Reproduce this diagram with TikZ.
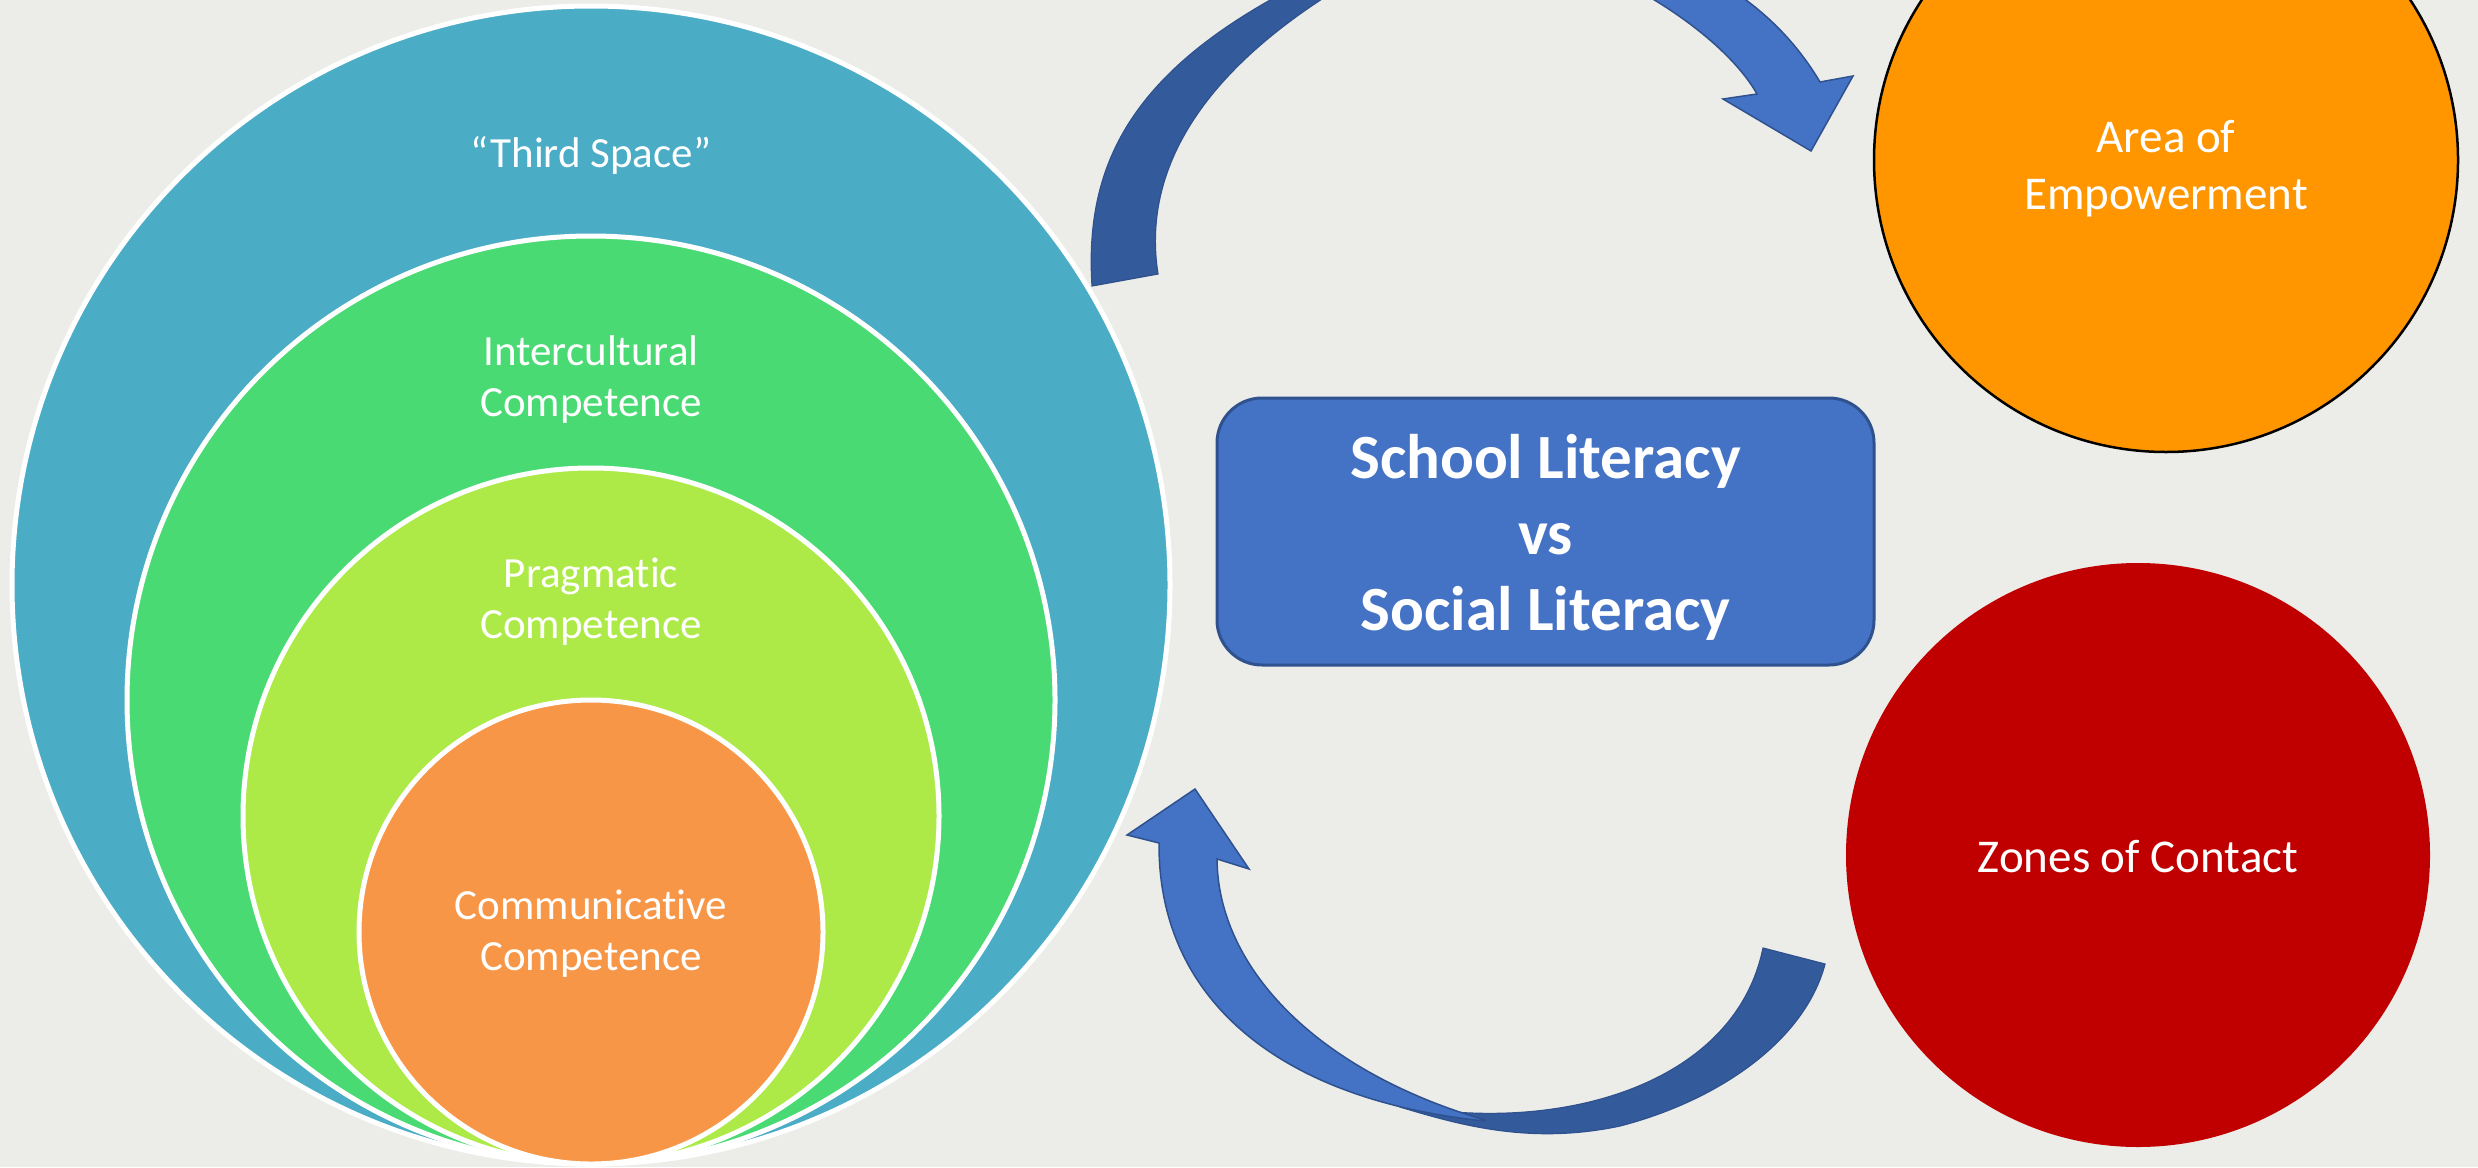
\documentclass[tikz,border=0pt]{standalone}
\usepackage{fontspec}
\setmainfont{Carlito}[Ligatures=NoCommon]

\definecolor{paper}{RGB}{236,236,232}
\definecolor{thirdspace}{RGB}{75,172,198}
\definecolor{intercult}{RGB}{74,218,116}
\definecolor{pragm}{RGB}{173,234,72}
\definecolor{commun}{RGB}{247,150,70}
\definecolor{empower}{RGB}{255,150,0}
\definecolor{contact}{RGB}{192,0,0}
\definecolor{boxblue}{RGB}{68,114,196}
\definecolor{boxedge}{RGB}{47,82,143}
\definecolor{ribbondark}{RGB}{51,90,154}

\begin{document}
\begin{tikzpicture}[x=1pt,y=-1pt,
  ring/.style={circle, draw=white, line width=5pt, inner sep=0pt},
  ringtext/.style={text=white, align=center, inner sep=0pt, font=\fontsize{43}{51}\selectfont},
  sidecircle/.style={circle, inner sep=0pt, minimum size=584pt},
  sidetext/.style={text=white, align=center, inner sep=0pt, font=\fontsize{47}{57}\selectfont},
  ribbonfront/.style={fill=boxblue, draw=boxedge, line width=1.5pt, line join=miter},
  ribbonback/.style={fill=ribbondark, draw=boxedge, line width=1.2pt, line join=miter}]

  % canvas
  \useasboundingbox (0,0) rectangle (2478,1167);
  \clip (0,0) rectangle (2478,1167);
  \fill[paper] (0,0) rectangle (2478,1167);

  % nested competence circles, all touching at the bottom
  \node[ring, fill=thirdspace, minimum size=1158pt] (third) at (591,585) {};
  \node[ring, fill=intercult,  minimum size=928pt]  (inter) at (591,700) {};
  \node[ring, fill=pragm,      minimum size=696pt]  (prag)  at (591,816) {};
  \node[ring, fill=commun,     minimum size=464pt]  (comm)  at (591,932) {};

  \node[ringtext] (thirdlabel) at (591,155) {“Third Space”};
  \node[ringtext] (interlabel) at (591,380) {Intercultural\\Competence};
  \node[ringtext] (praglabel)  at (591,602) {Pragmatic\\Competence};
  \node[ringtext] (commlabel)  at (591,934) {Communicative\\Competence};

  % central box
  \node[rectangle, rounded corners=45pt, fill=boxblue, draw=boxedge, line width=3pt,
        minimum width=657pt, minimum height=267pt] (literacy) at (1545.5,531.5) {};
  \node[text=white, align=center, inner sep=0pt,
        font=\bfseries\fontsize{63}{76}\selectfont] (literacylabel) at (1545.5,537)
        {School Literacy\\vs\\Social Literacy};

  % outer circles
  \node[sidecircle, fill=empower, draw=black, line width=2.5pt] (empowerment) at (2166,160) {};
  \node[sidetext] (empowermentlabel) at (2166,169) {Area of\\Empowerment};
  \node[sidecircle, fill=contact] (contactzone) at (2138,855) {};
  \node[sidetext] (contactlabel) at (2138,857) {Zones of Contact};

  % upper curved arrow: dark back strip rising from the left
  \path[ribbonback]
    (1092,286) .. controls (1084,160) and (1135,65) .. (1312,-22)
    -- (1356,-22) .. controls (1215,60) and (1140,160) .. (1158,274)
    -- cycle;
  % upper curved arrow: front strip with the head towards the orange circle
  \path[ribbonfront]
    (1614,-22) .. controls (1680,10) and (1735,55) .. (1757,94)
    -- (1723,99) -- (1811,151) -- (1853,76) -- (1820,82)
    .. controls (1795,40) and (1760,5) .. (1712,-22)
    -- cycle;

  % lower curved arrow: dark back strip from the red circle
  \path[ribbonback]
    (1400,1105) .. controls (1560,1135) and (1735,1085) .. (1763,948)
    -- (1825,964)
    .. controls (1805,1040) and (1720,1100) .. (1620,1126)
    .. controls (1530,1145) and (1460,1125) .. (1400,1107)
    -- cycle;
  % lower curved arrow: front strip with the head towards the circles
  \path[ribbonfront]
    (1195,789) -- (1249,869) -- (1217,859)
    .. controls (1218,970) and (1320,1072) .. (1485,1120)
    -- (1485,1121)
    .. controls (1280,1100) and (1158,1000) .. (1159,843)
    -- (1127,835) -- cycle;
\end{tikzpicture}
\end{document}
